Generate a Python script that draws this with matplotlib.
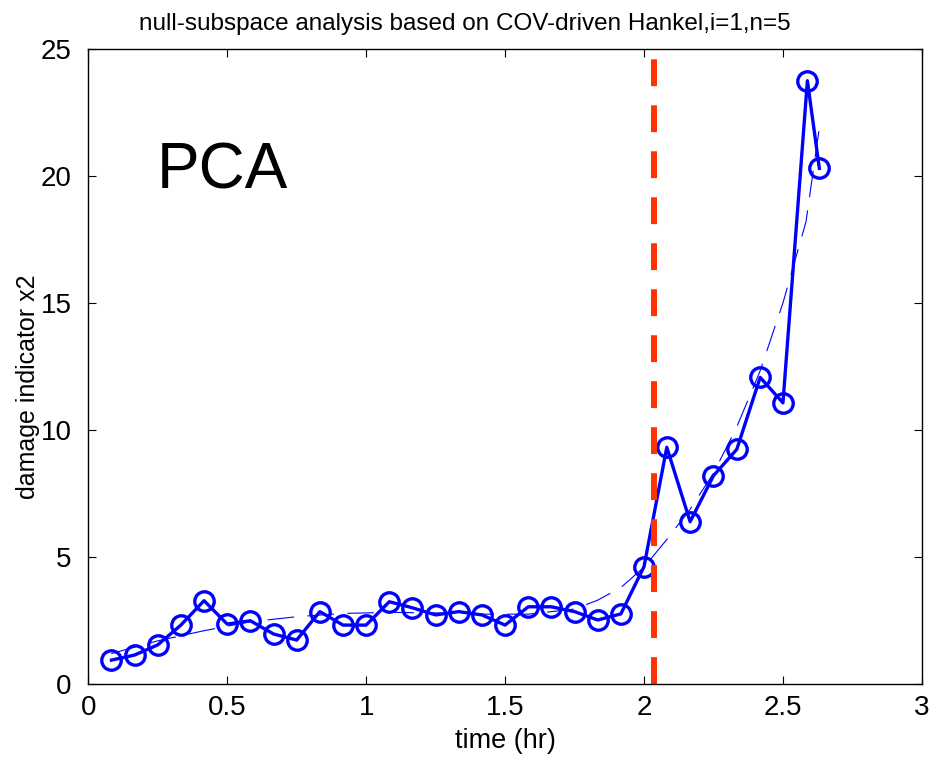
import matplotlib
matplotlib.use('Agg')
import matplotlib.pyplot as plt
import numpy as np

# damage indicator readings (every 5 min, hr)
time_hr = [1/12, 2/12, 3/12, 4/12, 5/12, 6/12, 7/12, 8/12, 9/12, 10/12, 11/12, 1.0,
           13/12, 14/12, 15/12, 16/12, 17/12, 18/12, 19/12, 20/12, 21/12, 22/12, 23/12, 2.0,
           2.082, 2.166, 2.25, 2.334, 2.418, 2.5, 2.588, 2.631]
indicator = [0.94, 1.14, 1.54, 2.32, 3.28, 2.36, 2.49, 1.97, 1.73, 2.85, 2.32, 2.32,
             3.24, 3.00, 2.72, 2.85, 2.72, 2.32, 3.04, 3.04, 2.85, 2.52, 2.76, 4.62,
             9.32, 6.39, 8.20, 9.24, 12.07, 11.07, 23.75, 20.30]

# trend curve
trend_t = [0.083, 0.25, 0.417, 0.583, 0.75, 0.917, 1.083, 1.25, 1.417, 1.583,
           1.75, 1.833, 1.917, 2.0, 2.083, 2.167, 2.25, 2.333, 2.417, 2.5, 2.583, 2.631]
trend_y = [1.2, 1.7, 2.1, 2.45, 2.65, 2.78, 2.82, 2.8, 2.75, 2.75,
           2.95, 3.3, 3.8, 4.6, 5.7, 6.9, 8.3, 10.1, 12.3, 15.0, 18.2, 21.9]

damage_time = 2.037

plt.rcParams['font.family'] = ['Liberation Sans', 'DejaVu Sans']

fig = plt.figure(figsize=(9.31, 7.58), dpi=100)
ax = fig.add_axes([0.0948, 0.0976, 0.8954, 0.8378])

ax.plot(trend_t, trend_y, color='#0000ff', lw=0.8, dashes=[24, 12])
ax.plot(time_hr, indicator, color='#0000ff', lw=2.4, marker='o', ms=14,
        mfc='none', mec='#0000ff', mew=2.4)
ax.plot([damage_time, damage_time], [0, 25], color='#ff3300', lw=4.3,
        dashes=[4.5, 3.2], solid_capstyle='butt', dash_capstyle='butt')

ax.set_xlim(0, 3)
ax.set_ylim(0, 25)
ax.set_xticks([0, 0.5, 1, 1.5, 2, 2.5, 3])
ax.set_xticklabels(['0', '0.5', '1', '1.5', '2', '2.5', '3'])
ax.set_yticks([0, 5, 10, 15, 20, 25])
ax.tick_params(direction='in', top=True, right=True, length=6, width=0.8,
               labelsize=20)
ax.tick_params(axis='x', pad=8)
ax.tick_params(axis='y', pad=12)
for s in ax.spines.values():
    s.set_linewidth(1.0)

ax.set_xlabel('time (hr)', fontsize=19.5, labelpad=5)
ax.set_ylabel('damage indicator x2', fontsize=18)
ax.yaxis.set_label_coords(-0.058, 0.468)
ax.set_title('null-subspace analysis based on COV-driven Hankel,i=1,n=5',
             fontsize=17.5, pad=14, x=0.452)
ax.text(0.247, 19.5, 'PCA', fontsize=46)

fig.savefig('out.png', dpi=100)
